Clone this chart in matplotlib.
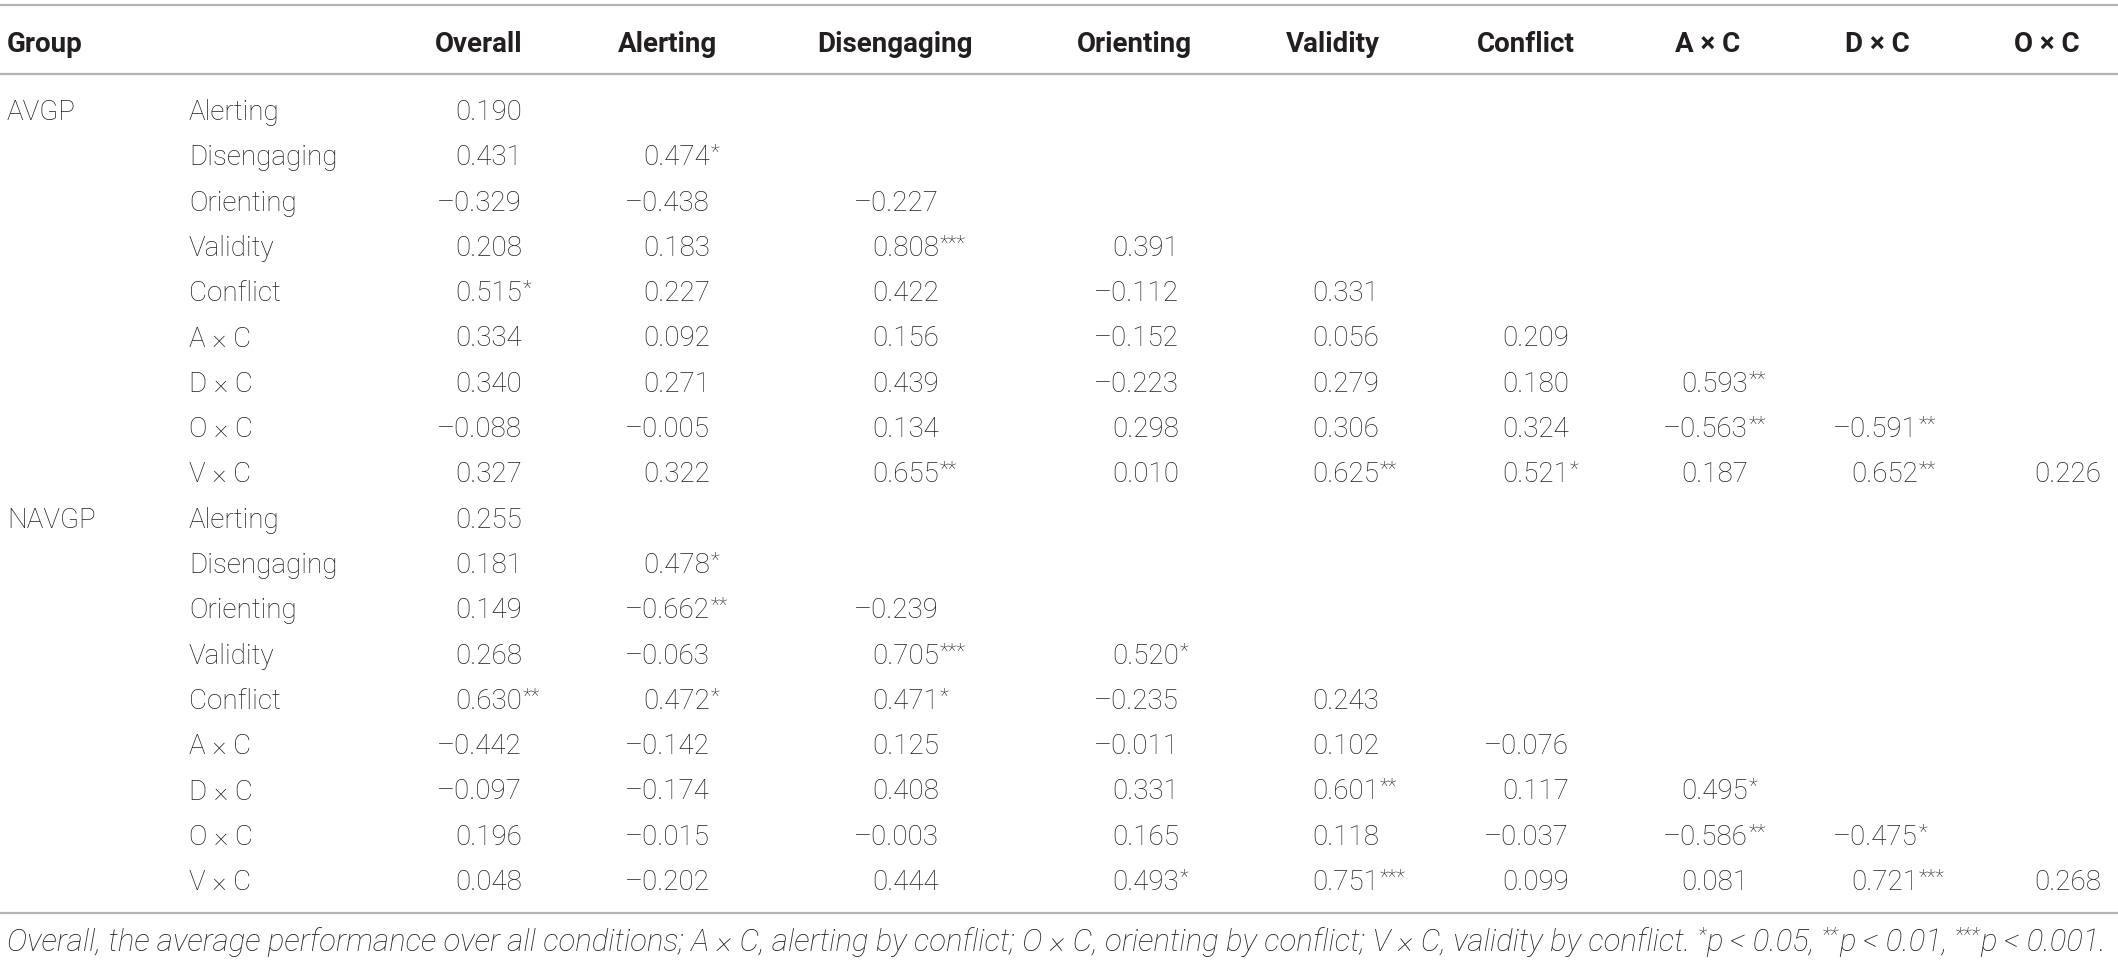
"""
Correlation table (AVGP vs NAVGP attention network scores) redrawn with matplotlib.
"""
import matplotlib.pyplot as plt

# ---- table content -------------------------------------------------------
COLUMNS = ['Overall', 'Alerting', 'Disengaging', 'Orienting', 'Validity',
           'Conflict', 'A \u00d7 C', 'D \u00d7 C', 'O \u00d7 C']
ROW_LABELS = ['Alerting', 'Disengaging', 'Orienting', 'Validity', 'Conflict',
              'A \u00d7 C', 'D \u00d7 C', 'O \u00d7 C', 'V \u00d7 C']
GROUPS = ['AVGP', 'NAVGP']

avgp_r = [
    [0.190],
    [0.431, 0.474],
    [-0.329, -0.438, -0.227],
    [0.208, 0.183, 0.808, 0.391],
    [0.515, 0.227, 0.422, -0.112, 0.331],
    [0.334, 0.092, 0.156, -0.152, 0.056, 0.209],
    [0.340, 0.271, 0.439, -0.223, 0.279, 0.180, 0.593],
    [-0.088, -0.005, 0.134, 0.298, 0.306, 0.324, -0.563, -0.591],
    [0.327, 0.322, 0.655, 0.010, 0.625, 0.521, 0.187, 0.652, 0.226],
]
avgp_sig = [
    [0],
    [0, 1],
    [0, 0, 0],
    [0, 0, 3, 0],
    [1, 0, 0, 0, 0],
    [0, 0, 0, 0, 0, 0],
    [0, 0, 0, 0, 0, 0, 2],
    [0, 0, 0, 0, 0, 0, 2, 2],
    [0, 0, 2, 0, 2, 1, 0, 2, 0],
]
navgp_r = [
    [0.255],
    [0.181, 0.478],
    [0.149, -0.662, -0.239],
    [0.268, -0.063, 0.705, 0.520],
    [0.630, 0.472, 0.471, -0.235, 0.243],
    [-0.442, -0.142, 0.125, -0.011, 0.102, -0.076],
    [-0.097, -0.174, 0.408, 0.331, 0.601, 0.117, 0.495],
    [0.196, -0.015, -0.003, 0.165, 0.118, -0.037, -0.586, -0.475],
    [0.048, -0.202, 0.444, 0.493, 0.751, 0.099, 0.081, 0.721, 0.268],
]
navgp_sig = [
    [0],
    [0, 1],
    [0, 2, 0],
    [0, 0, 3, 1],
    [2, 1, 1, 0, 0],
    [0, 0, 0, 0, 0, 0],
    [0, 0, 0, 0, 2, 0, 1],
    [0, 0, 0, 0, 0, 0, 2, 1],
    [0, 0, 0, 1, 3, 0, 0, 3, 0],
]

# footnote pieces: (text, superscript?)
FOOTNOTE = [
    ('Overall, the average performance over all conditions; A \u00d7 C, alerting by '
     'conflict; O \u00d7 C, orienting by conflict; V \u00d7 C, validity by conflict. ', False),
    ('*', True), ('p < 0.05, ', False),
    ('**', True), ('p < 0.01, ', False),
    ('***', True), ('p < 0.001.', False),
]

# ---- layout (pixels) -----------------------------------------------------
W, H = 2118, 962
COL_RIGHT = [522, 710, 939, 1179, 1379, 1569, 1748, 1918, 2101]
HEAD_CENTER = [479, 668, 895, 1134, 1333, 1526, 1708, 1877, 2047]
X_GROUP, X_LABEL = 7, 189
Y_FIRST, ROW_STEP = 110, 45.3
CAP = 10           # half cap height, pixels
FS = 20
FS_NOTE = 22.4
RULE = '#b4b4b4'
INK = '#231f20'

plt.rcParams['font.family'] = ['Roboto', 'DejaVu Sans']


def fmt(v):
    s = f'{abs(v):.3f}'
    return ('\u2013' + s) if v < 0 else s


fig = plt.figure(figsize=(W / 100, H / 100), dpi=100)
ax = fig.add_axes([0, 0, 1, 1])
ax.set_xlim(0, W)
ax.set_ylim(H, 0)
ax.axis('off')

for y in (6, 75, 914):
    ax.plot([0, W], [y, y], color=RULE, lw=1.6, solid_capstyle='butt')

# header
ax.text(X_GROUP, 42 + CAP, 'Group', fontsize=FS, weight='bold', color=INK, va='baseline')
for name, xc in zip(COLUMNS, HEAD_CENTER):
    ax.text(xc, 42 + CAP, name, fontsize=FS, weight='bold', color=INK,
            ha='center', va='baseline')

# body
row = 0
for group, vals, sigs in zip(GROUPS, [avgp_r, navgp_r], [avgp_sig, navgp_sig]):
    for i, label in enumerate(ROW_LABELS):
        y = Y_FIRST + row * ROW_STEP + CAP
        if i == 0:
            ax.text(X_GROUP, y, group, fontsize=FS, weight='light', color=INK, va='baseline')
        ax.text(X_LABEL, y, label, fontsize=FS, weight='light', color=INK, va='baseline')
        for j, (v, s) in enumerate(zip(vals[i], sigs[i])):
            ax.text(COL_RIGHT[j], y, fmt(v), fontsize=FS, weight='light', color=INK,
                    ha='right', va='baseline')
            if s:
                ax.text(COL_RIGHT[j] + 1, y - 2 * CAP - 2, '*' * s, fontsize=15,
                        weight='light', color=INK, ha='left', va='top')
        row += 1

# footnote, drawn piece by piece so the stars can sit raised
renderer = fig.canvas.get_renderer()
x = X_GROUP
y_note = 951
for piece, sup in FOOTNOTE:
    t = ax.text(x, y_note - (10 if sup else 0), piece,
                fontsize=(15 if sup else FS_NOTE), style='italic', weight='light',
                color=INK, va='baseline')
    bb = t.get_window_extent(renderer=renderer)
    x += bb.width

fig.savefig('out.png', dpi=100)
